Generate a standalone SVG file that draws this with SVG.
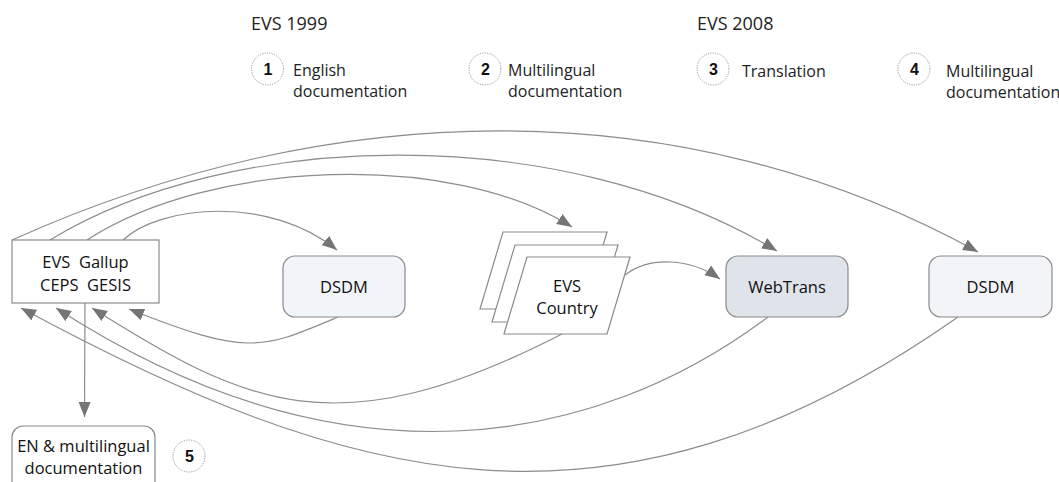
<svg xmlns="http://www.w3.org/2000/svg" width="1059" height="482" viewBox="0 0 1059 482">
<style>
.hdr{font-family:"Open Sans","Liberation Sans",sans-serif;font-size:18px;fill:#222}
.lbl{font-family:"Open Sans","Liberation Sans",sans-serif;font-size:16px;fill:#222}
.node{font-family:"Open Sans","Liberation Sans",sans-serif;font-size:16.5px;fill:#111;text-anchor:middle}
.num{font-family:"Liberation Sans",Arial,sans-serif;font-size:16px;font-weight:bold;fill:#111;text-anchor:middle}
.badge{fill:#fff;stroke:#999;stroke-width:1;stroke-dasharray:1.2 1.2}
.box{stroke:#8a8a8a;stroke-width:1.2}
.conn path{fill:none;stroke:#8c8c8c;stroke-width:1.2;marker-end:url(#ah)}
</style>
<defs>
<marker id="ah" markerUnits="userSpaceOnUse" markerWidth="16" markerHeight="13" refX="15" refY="6" orient="auto">
<path d="M0,0 L15,6 L0,12 z" fill="#757575"/>
</marker>
</defs>
<rect width="1059" height="482" fill="#fff"/>

<g id="legend">
<text class="hdr" x="251" y="30">EVS 1999</text>
<text class="hdr" x="697" y="30">EVS 2008</text>
<circle class="badge" cx="267.5" cy="69" r="16"/>
<text class="num" x="268" y="75">1</text>
<text class="lbl" x="293" y="76">English</text>
<text class="lbl" x="293" y="97">documentation</text>
<circle class="badge" cx="485" cy="69" r="16"/>
<text class="num" x="485.5" y="75">2</text>
<text class="lbl" x="508" y="76">Multilingual</text>
<text class="lbl" x="508" y="97">documentation</text>
<circle class="badge" cx="713" cy="69" r="16"/>
<text class="num" x="713.5" y="75">3</text>
<text class="lbl" x="742" y="77">Translation</text>
<circle class="badge" cx="914" cy="69" r="16"/>
<text class="num" x="914.5" y="75">4</text>
<text class="lbl" x="946" y="77">Multilingual</text>
<text class="lbl" x="946" y="98">documentation</text>
</g>

<g class="conn" id="connectors">
<path d="M12,240 C330,97 680,88 978,252"/>
<path d="M50,240 C230,130 560,120 777,251"/>
<path d="M87,240 C210,160 450,150 572,227"/>
<path d="M123,240 C160,205 270,195 337,250"/>
<path d="M625,275 C650,256 690,258 720,279"/>
<path d="M338,317 C262,349 249,357 129,309"/>
<path d="M562,334 C336,450 246,405 92,308"/>
<path d="M768,317 C596,446 345,495 56,308"/>
<path d="M958,317 C609,562 344,482 21,308"/>
<path d="M85,303 L84.5,417"/>
</g>

<g id="partners">
<rect class="box" x="12" y="240" width="147" height="63" fill="#fff"/>
<text class="node" x="85.5" y="268" xml:space="preserve">EVS  Gallup</text>
<text class="node" x="85.5" y="291" xml:space="preserve">CEPS  GESIS</text>
</g>

<g id="dsdm1">
<rect class="box" x="283" y="256" width="122" height="61" rx="12" fill="#f1f4f8"/>
<text class="node" x="344" y="293">DSDM</text>
</g>

<g id="evs-country">
<polygon class="box" points="503,232 607,232 584,309 480,309" fill="#fff"/>
<polygon class="box" points="515,245 618,245 595,322 492,322" fill="#fff"/>
<polygon class="box" points="527,257 630,257 607,334 504,334" fill="#fff"/>
<text class="node" x="567" y="292">EVS</text>
<text class="node" x="567" y="314">Country</text>
</g>

<g id="webtrans">
<rect class="box" x="726" y="256" width="122" height="61" rx="12" fill="#dfe4eb"/>
<text class="node" x="787" y="293">WebTrans</text>
</g>

<g id="dsdm2">
<rect class="box" x="929" y="256" width="123" height="61" rx="12" fill="#f2f4f7"/>
<text class="node" x="990.5" y="293">DSDM</text>
</g>

<g id="en-doc">
<rect class="box" x="12" y="426" width="143" height="72" rx="11" fill="#fff"/>
<text class="node" x="83.5" y="452">EN &amp; multilingual</text>
<text class="node" x="83.5" y="474">documentation</text>
<circle class="badge" cx="189" cy="456" r="16"/>
<text class="num" x="189.5" y="462">5</text>
</g>
</svg>
